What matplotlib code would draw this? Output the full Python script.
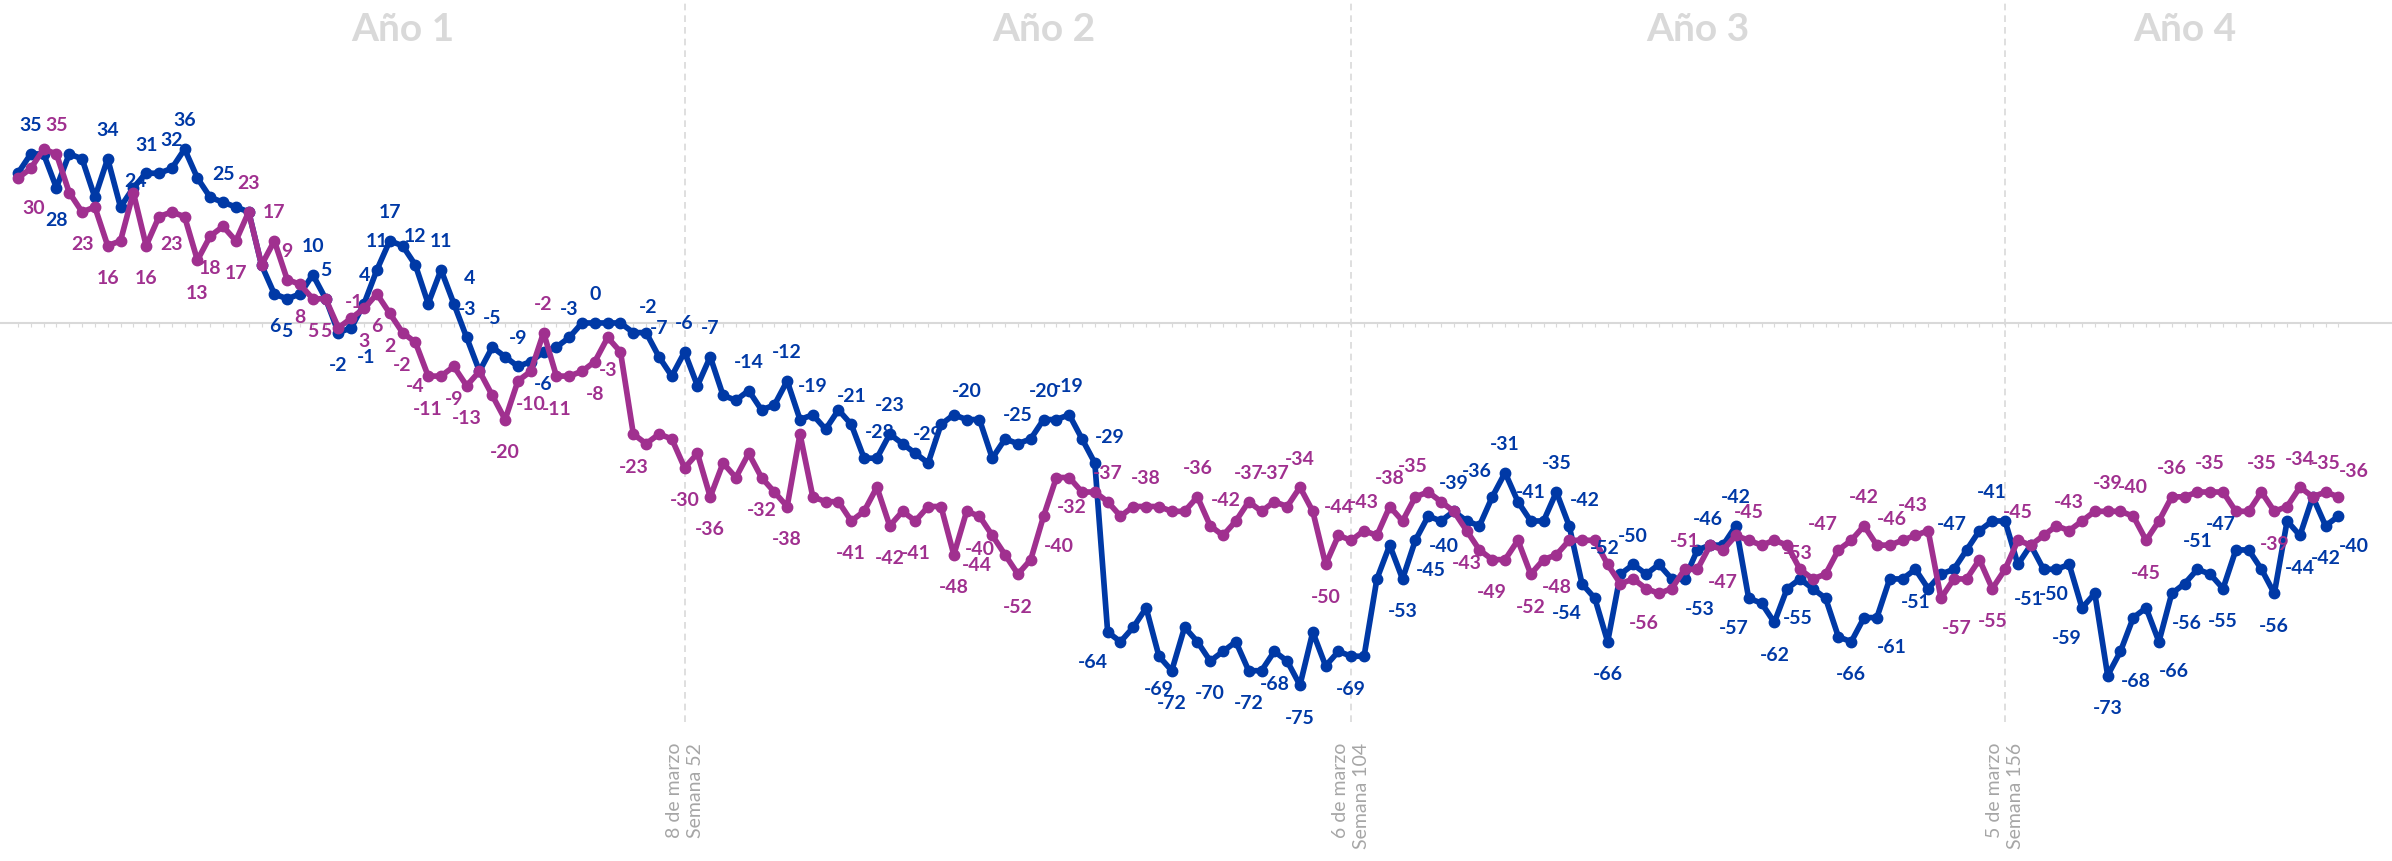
import numpy as np
import matplotlib
matplotlib.use("Agg")
import matplotlib.pyplot as plt

# valores semanales (serie azul y serie morada)
azul = [31, 35, 35, 28, 35, 34, 26, 34, 24, 28,
        31, 31, 32, 36, 30, 26, 25, 24, 23, 12,
        6, 5, 6, 10, 5, -2, -1, 4, 11, 17,
        16, 12, 4, 11, 4, -3, -10, -5, -7, -9,
        -8, -6, -5, -3, 0, 0, 0, 0, -2, -2,
        -7, -11, -6, -13, -7, -15, -16, -14, -18, -17,
        -12, -20, -19, -22, -18, -21, -28, -28, -23, -25,
        -27, -29, -21, -19, -20, -20, -28, -24, -25, -24,
        -20, -20, -19, -24, -29, -64, -66, -63, -59, -69,
        -72, -63, -66, -70, -68, -66, -72, -72, -68, -70,
        -75, -64, -71, -68, -69, -69, -53, -46, -53, -45,
        -40, -41, -39, -41, -42, -36, -31, -37, -41, -41,
        -35, -42, -54, -57, -66, -52, -50, -52, -50, -53,
        -53, -47, -46, -46, -42, -57, -58, -62, -55, -53,
        -55, -57, -65, -66, -61, -61, -53, -53, -51, -55,
        -52, -51, -47, -43, -41, -41, -50, -46, -51, -51,
        -50, -59, -56, -73, -68, -61, -59, -66, -56, -54,
        -51, -52, -55, -47, -47, -51, -56, -41, -44, -36,
        -42, -40]

morado = [30, 32, 36, 35, 27, 23, 24, 16, 17, 27,
          16, 22, 23, 22, 13, 18, 20, 17, 23, 12,
          17, 9, 8, 5, 5, -1, 1, 3, 6, 2,
          -2, -4, -11, -11, -9, -13, -10, -15, -20, -12,
          -10, -2, -11, -11, -10, -8, -3, -6, -23, -25,
          -23, -24, -30, -27, -36, -29, -32, -27, -32, -35,
          -38, -23, -36, -37, -37, -41, -39, -34, -42, -39,
          -41, -38, -38, -48, -39, -40, -44, -48, -52, -49,
          -40, -32, -32, -35, -35, -37, -40, -38, -38, -38,
          -39, -39, -36, -42, -44, -41, -37, -39, -37, -38,
          -34, -39, -50, -44, -45, -43, -44, -38, -41, -36,
          -35, -37, -39, -43, -47, -49, -49, -45, -52, -49,
          -48, -45, -45, -45, -50, -54, -53, -55, -56, -55,
          -51, -51, -46, -47, -44, -45, -46, -45, -46, -51,
          -53, -52, -47, -45, -42, -46, -46, -45, -44, -43,
          -57, -53, -53, -49, -55, -51, -45, -46, -44, -42,
          -43, -41, -39, -39, -39, -40, -45, -41, -36, -36,
          -35, -35, -35, -39, -39, -35, -39, -38, -34, -36,
          -35, -36]

# puntos con etiqueta: indice -> posicion (a=arriba, b=abajo, r/l=derecha/izquierda)
etiquetas_azul = {1: 'a', 3: 'b', 7: 'a', 8: 'ar', 10: 'a', 12: 'a', 13: 'a', 16: 'a',
                  20: 'b', 21: 'b', 23: 'a', 24: 'a', 25: 'b', 26: 'br', 27: 'a', 28: 'a',
                  29: 'a', 31: 'a', 33: 'a', 34: 'ar', 35: 'a', 37: 'a', 39: 'a', 41: 'b',
                  43: 'a', 45: 'a', 48: 'ar', 50: 'a', 52: 'a', 54: 'a', 57: 'a', 60: 'a',
                  62: 'a', 65: 'a', 66: 'ar', 68: 'a', 71: 'a', 74: 'a', 78: 'a', 80: 'a',
                  82: 'a', 84: 'ar', 85: 'bl', 89: 'b', 90: 'b', 93: 'b', 96: 'b', 98: 'b',
                  100: 'b', 104: 'b', 108: 'b', 109: 'br', 110: 'br', 112: 'a', 115: 'al',
                  116: 'a', 118: 'a', 120: 'a', 121: 'ar', 122: 'bl', 124: 'b', 125: 'al',
                  126: 'a', 130: 'br', 133: 'al', 134: 'a', 135: 'bl', 137: 'b', 140: 'bl',
                  143: 'b', 145: 'br', 148: 'b', 152: 'al', 154: 'a', 158: 'bl', 160: 'bl',
                  161: 'bl', 163: 'b', 164: 'br', 167: 'br', 168: 'br', 170: 'a', 172: 'b',
                  173: 'al', 176: 'b', 178: 'b', 180: 'b', 181: 'br'}

etiquetas_morado = {0: 'br', 3: 'a', 5: 'b', 7: 'b', 10: 'b', 12: 'b', 14: 'b', 15: 'b',
                    17: 'b', 18: 'a', 20: 'a', 21: 'a', 22: 'b', 23: 'b', 24: 'b', 25: 'ar',
                    27: 'b', 28: 'b', 29: 'b', 30: 'b', 31: 'bb', 32: 'b', 34: 'b', 35: 'b',
                    38: 'b', 40: 'b', 41: 'a', 42: 'b', 45: 'b', 46: 'b', 48: 'b', 52: 'b',
                    54: 'b', 58: 'b', 60: 'b', 65: 'b', 68: 'b', 70: 'b', 73: 'b', 75: 'b',
                    76: 'bl', 78: 'b', 80: 'br', 81: 'br', 85: 'a', 88: 'a', 92: 'a', 93: 'ar',
                    96: 'a', 98: 'a', 100: 'a', 102: 'b', 103: 'a', 105: 'a', 107: 'a',
                    110: 'al', 113: 'b', 115: 'b', 118: 'b', 120: 'b', 128: 'bl', 130: 'a',
                    133: 'b', 135: 'a', 140: 'al', 142: 'al', 144: 'a', 145: 'ar', 149: 'al',
                    150: 'br', 154: 'b', 156: 'a', 160: 'a', 163: 'a', 165: 'a', 166: 'b',
                    168: 'a', 171: 'a', 175: 'a', 176: 'b', 178: 'a', 180: 'a', 181: 'ar'}

anios = ['Año 1', 'Año 2', 'Año 3', 'Año 4']
pos_anios = [30, 80, 131, 169]
cortes = [52, 104, 155]
textos_cortes = ['8 de marzo\nSemana 52', '6 de marzo\nSemana 104', '5 de marzo\nSemana 156']

AZUL = '#0039A6'
MORADO = '#A0308F'
GRIS = '#D9D9D9'

desp = {'a': (0, 21), 'b': (0, -23), 'bb': (0, -31), 'ar': (11, 19), 'al': (-11, 19),
        'br': (11, -21), 'bl': (-11, -21)}

x = np.arange(len(azul))

fig = plt.figure(figsize=(23.92, 8.62), dpi=100)
ax = fig.add_axes([0, 0, 1, 1])
ax.set_xlim(-1.40, 185.18)
ax.set_ylim(-111.4, 67.08)

# eje en cero con marcas por semana
for s in ['top', 'right', 'left']:
    ax.spines[s].set_visible(False)
ax.spines['bottom'].set_position(('data', 0))
ax.spines['bottom'].set_color(GRIS)
ax.spines['bottom'].set_linewidth(1.5)
ax.set_xticks(x)
ax.tick_params(axis='x', length=3, color=GRIS, labelbottom=False)
ax.set_yticks([])

# lineas de corte de año
ax.vlines(cortes, -82.6, 67.08, colors=GRIS, linestyles=(0, (4, 3)), linewidth=1.2)
for c, t in zip(cortes, textos_cortes):
    ax.text(c, -86.7, t, rotation=90, ha='center', va='top', multialignment='right',
            fontsize=14, color='#A6A6A6', family='Lato', linespacing=1.3)

for a, p in zip(anios, pos_anios):
    ax.text(p, 61, a, ha='center', va='center', fontsize=28, fontweight='bold',
            color=GRIS, family='Lato')

ax.plot(x, azul, color=AZUL, lw=4.1, marker='o', ms=7.5, zorder=3)
ax.plot(x, morado, color=MORADO, lw=4.1, marker='o', ms=7.5, zorder=4)

for serie, etiq, col in [(azul, etiquetas_azul, AZUL), (morado, etiquetas_morado, MORADO)]:
    for i, p in etiq.items():
        ax.annotate(f"{serie[i]:.0f}", (i, serie[i]), xytext=desp[p], textcoords='offset points',
                    ha='center', va='center', fontsize=14, fontweight='bold', color=col,
                    family='Lato', zorder=5)

fig.savefig('out.png', dpi=100)
